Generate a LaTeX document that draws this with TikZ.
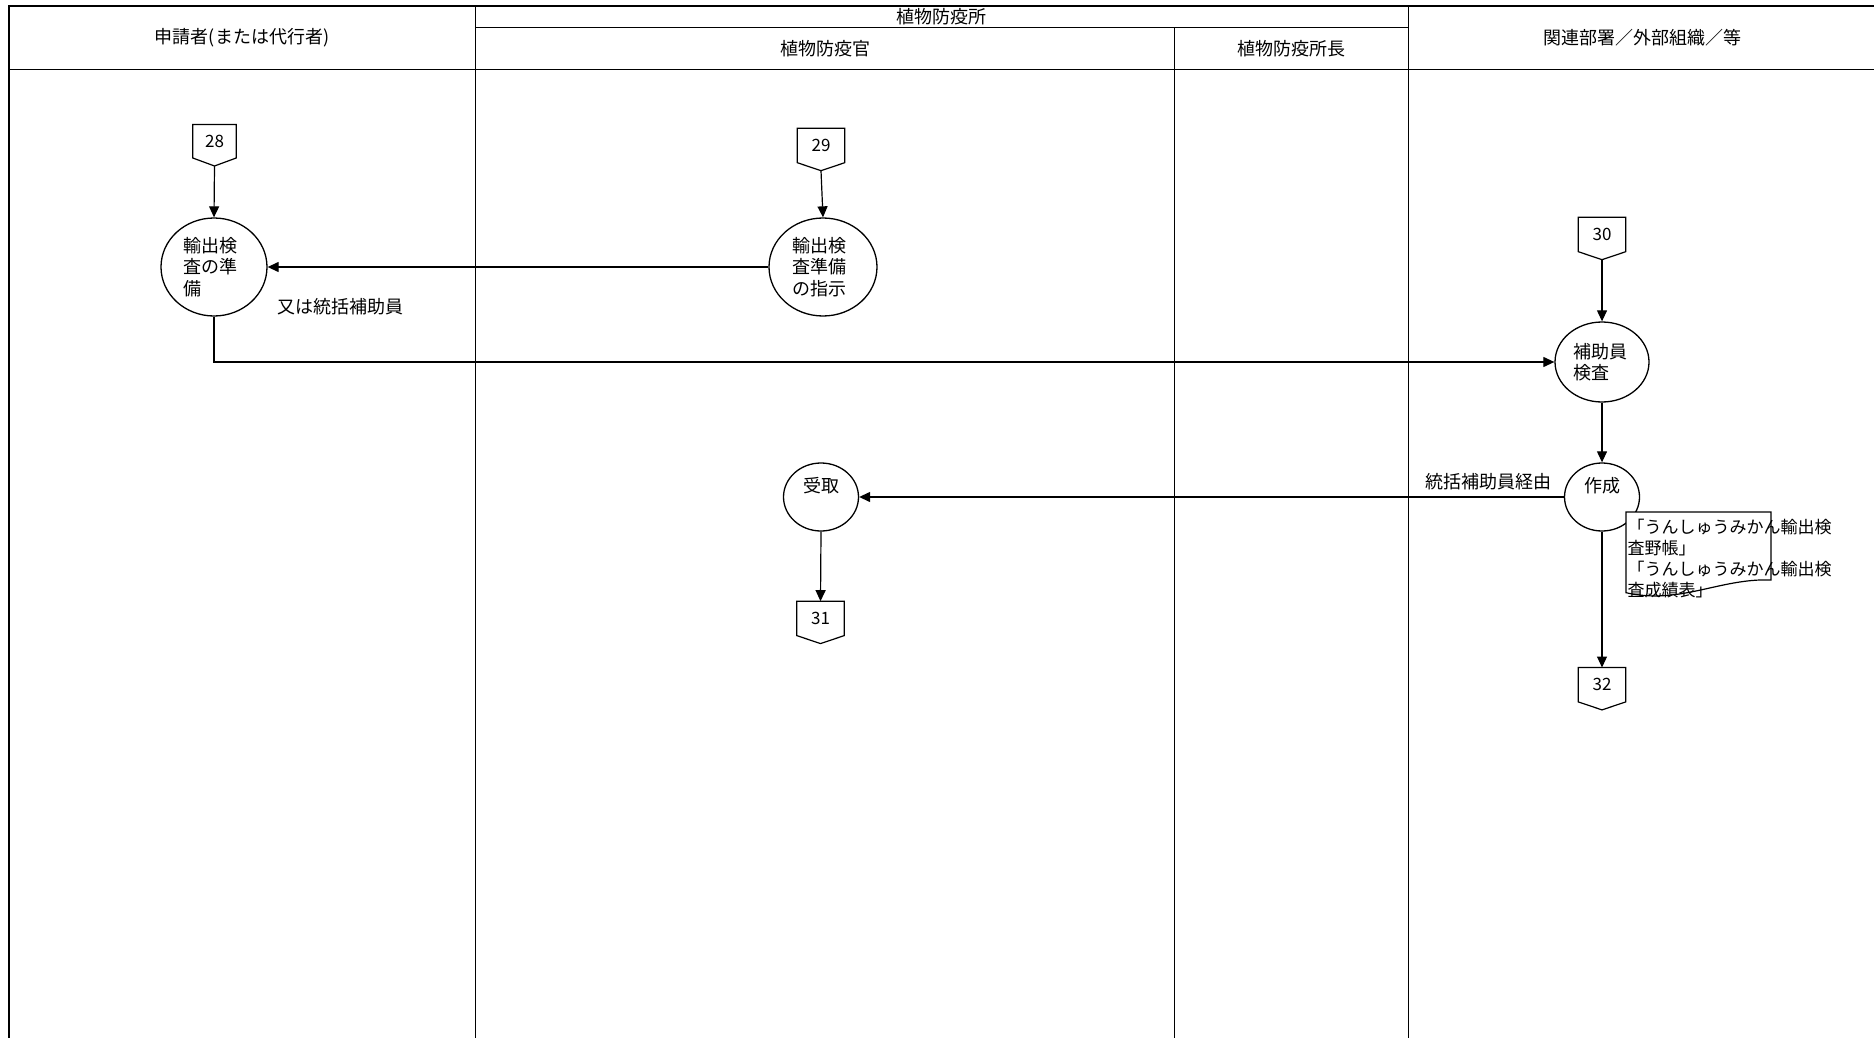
\documentclass[tikz,border=0pt]{standalone}
\usepackage{fontspec}
\setmainfont{Noto Sans CJK JP}
\usetikzlibrary{arrows.meta,positioning,calc,shapes.geometric}
\tikzset{
  lanehead/.style={inner sep=0pt, font=\fontsize{18}{18}\selectfont},
  laneline/.style={line width=1.5pt},
  flowproc/.style={draw=black, ellipse, line width=1.3pt, fill=white, inner sep=0pt, align=left, font=\fontsize{18}{21.5}\selectfont},
  flowline/.style={-{Triangle[length=11pt,width=10pt]}, line width=1.2pt},
  flowlabel/.style={inner sep=0pt, font=\fontsize{18}{18}\selectfont},
  pgnum/.style={rectangle, minimum width=47pt, minimum height=34pt, inner sep=0pt, font=\fontsize{17}{17}\selectfont},
  pgedge/.style={line width=1.2pt},
  docedge/.style={line width=1.2pt, fill=white},
  doctext/.style={inner sep=0pt, align=left, font=\fontsize{17}{21}\selectfont}
}
% off-page connector: options, name, centre, number
\newcommand{\offpage}[4][]{%
  \node[pgnum,#1] (#2) at (#3) {#4};
  \draw[pgedge] (#2.north west) -- (#2.north east) -- (#2.south east)
    -- ($(#2.south)+(0,8)$) coordinate (#2-tip) -- (#2.south west) -- cycle;
}

\begin{document}
\begin{tikzpicture}[x=1pt, y=-1pt]
  \useasboundingbox (0,0) rectangle (1874,1038);
  % swimlane frame
  \draw[laneline] (1876,6) -- (9,6) -- (9,1040);
  \draw[laneline] (9,69.3) -- (1876,69.3);
  \draw[laneline] (475.3,6) -- (475.3,1040);
  \draw[laneline] (1408.3,6) -- (1408.3,1040);
  \draw[laneline] (475.3,27.3) -- (1408.3,27.3);
  \draw[laneline] (1174.7,27.3) -- (1174.7,1040);
  \node[lanehead] (hdapp) at (242,37.6) {申請者(または代行者)};
  \node[lanehead] (hdstation) at (941.8,16.7) {植物防疫所};
  \node[lanehead] (hdofficer) at (825,48.3) {植物防疫官};
  \node[lanehead] (hdchief) at (1291.5,48.3) {植物防疫所長};
  \node[lanehead] (hdother) at (1642,37.6) {関連部署／外部組織／等};

  % processes
  \node[flowproc, minimum width=106pt, minimum height=98pt, text width=62pt] (prep) at (214,267) {輸出検\\査の準\\備};
  \node[flowproc, minimum width=108pt, minimum height=98pt, text width=62pt] (instr) at (823,267) {輸出検\\査準備\\の指示};
  \node[flowproc, minimum width=94pt, minimum height=80pt, text width=58pt] (insp) at (1602,362) {補助員\\検査};
  \node[flowproc, minimum width=75pt, minimum height=68pt, text depth=25pt] (make) at (1602,497) {作成};
  \node[flowproc, minimum width=75pt, minimum height=68pt, text depth=25pt] (recv) at (821,497) {受取};

  % off-page connectors
  \offpage[minimum width=43pt, minimum height=33pt]{c28}{214.5,141.3}{28}
  \offpage{c29}{821,145.5}{29}
  \offpage{c30}{1602,234.5}{30}
  \offpage{c31}{820.5,618.4}{31}
  \offpage{c32}{1602,684.7}{32}

  % flows
  \draw[flowline] (c28-tip) -- (prep.north);
  \draw[flowline] (c29-tip) -- (instr.north);
  \draw[flowline] (instr.west) -- (prep.east);
  \draw[flowline] (prep.south) |- (insp.west);
  \draw[flowline] (c30-tip) -- (insp.north);
  \draw[flowline] (insp.south) -- (make.north);
  \draw[flowline] (make.west) -- (recv.east);
  \draw[flowline] (recv.south) -- (c31.north);
  \draw[flowline] (make.south) -- (c32.north);
  \node[flowlabel] (lblvia) at (340.3,306.7) {又は統括補助員};
  \node[flowlabel] (lblrelay) at (1488.5,481.7) {統括補助員経由};

  % document
  \draw[docedge] (1626,512) -- (1771,512) -- (1771,580)
    .. controls (1720,578) and (1680,605) .. (1626,592.7) -- cycle;
  \node[doctext, anchor=north west] (docnote) at (1627.5,518.5) {「うんしゅうみかん輸出検\\査野帳」\\「うんしゅうみかん輸出検\\査成績表」};
\end{tikzpicture}
\end{document}
